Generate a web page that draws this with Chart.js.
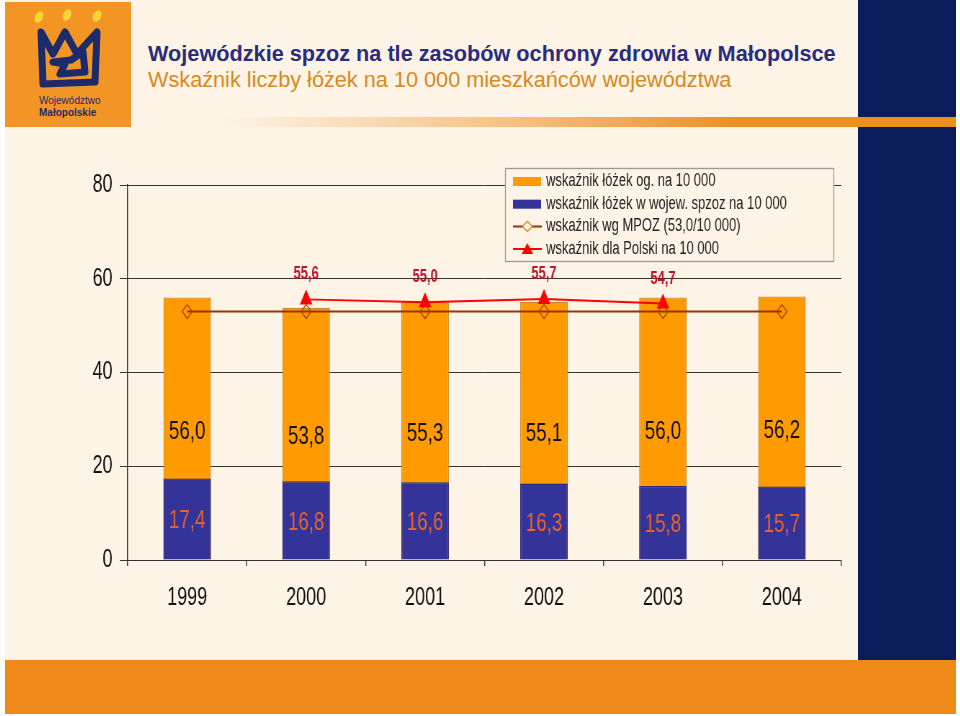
<!DOCTYPE html>
<html>
<head>
<meta charset="utf-8">
<script src="https://cdn.jsdelivr.net/npm/chart.js@4/dist/chart.umd.min.js"></script>
<style>
  html, body { margin: 0; padding: 0; }
  body { width: 960px; height: 716px; background: #fff; position: relative; overflow: hidden; font-family: "Liberation Sans", Arial, sans-serif; }
  #page { position: absolute; left: 5px; top: 0; width: 951px; height: 714px; background: #fdf4e7; }
  #navy { position: absolute; left: 858px; top: 0; width: 98px; height: 660px; background: #0b1c5a; }
  #strip { position: absolute; left: 220px; top: 117px; width: 736px; height: 10px;
           background: linear-gradient(to right, rgba(240,140,30,0) 0%, rgba(240,140,30,0.5) 40%, #ef8f22 70%, #ef8f22 100%); }
  #bottom { position: absolute; left: 5px; top: 660px; width: 951px; height: 54px; background: #ef8a1a; }
  #logo { position: absolute; left: 5px; top: 2px; width: 126px; height: 125px; background: #f29524; }
  #logo .t1 { position: absolute; left: 34px; top: 93px; font-size: 10px; color: #1d2a6b; }
  #logo .t2 { position: absolute; left: 34px; top: 105px; font-size: 10px; font-weight: bold; color: #1d2a6b; }
  #title { position: absolute; left: 148px; top: 41px; font-size: 21.7px; font-weight: bold; color: #2a2c7c; white-space: nowrap; }
  #subtitle { position: absolute; left: 148px; top: 67px; font-size: 21.7px; color: #d9891c; white-space: nowrap; }
  #chart { position: absolute; left: 60px; top: 160px; width: 790px; height: 450px; }
</style>
</head>
<body>
<div id="page"></div>
<div id="navy"></div>
<div id="strip"></div>
<div id="bottom"></div>
<div id="logo">
  <svg width="126" height="95" viewBox="0 0 126 95">
    <ellipse cx="34" cy="15" rx="4" ry="6" fill="#f7d634" transform="rotate(25 34 15)"/>
    <ellipse cx="62" cy="13" rx="4" ry="6" fill="#f7d634" transform="rotate(25 62 13)"/>
    <ellipse cx="92" cy="14" rx="4" ry="6" fill="#f7d634" transform="rotate(25 92 14)"/>
    <path d="M36 30 L48 52 L60 30 L72 52 L92 30 L90 80 L38 82 Z M48 60 L60 62 L55 72 L80 70 L78 50 L66 58 Z"
          fill="none" stroke="#1d2a6b" stroke-width="7" stroke-linejoin="round"/>
  </svg>
  <div class="t1">Województwo</div>
  <div class="t2">Małopolskie</div>
</div>
<div id="title">Wojewódzkie spzoz na tle zasobów ochrony zdrowia w Małopolsce</div>
<div id="subtitle">Wskaźnik liczby łóżek na 10 000 mieszkańców województwa</div>
<!-- the original slide is squeezed sideways, so the canvas is drawn wider and shown at 790px -->
<canvas id="chart" width="1097" height="450" style="width:790px;height:450px"></canvas>
<script>
const years = ["1999", "2000", "2001", "2002", "2003", "2004"];
const bedsTotal = [56.0, 53.8, 55.3, 55.1, 56.0, 56.2];
const bedsSpzoz = [17.4, 16.8, 16.6, 16.3, 15.8, 15.7];
const mpozNorm = [53.0, 53.0, 53.0, 53.0, 53.0, 53.0];
const polska = [null, 55.6, 55.0, 55.7, 54.7, null];
const yTicks = [0, 20, 40, 60, 80];

const font = '"Liberation Sans", Arial, sans-serif';

const fmt = v => v.toFixed(1).replace(".", ",");

// value labels inside bars and above the Poland line
const labelPlugin = {
  id: "labels",
  afterDatasetsDraw(chart) {
    const ctx = chart.ctx;
    const x = chart.scales.x, y = chart.scales.y;
    ctx.save();
    ctx.textAlign = "center";
    ctx.textBaseline = "middle";
    years.forEach((yr, i) => {
      const px = x.getPixelForValue(i);
      ctx.font = "26px " + font;
      ctx.fillStyle = "#111";
      ctx.fillText(fmt(bedsTotal[i]), px, y.getPixelForValue(bedsTotal[i] / 2) + 3);
      ctx.fillStyle = "#e8632a";
      ctx.fillText(fmt(bedsSpzoz[i]), px, y.getPixelForValue(bedsSpzoz[i] / 2) + 2);
      if (polska[i] != null) {
        ctx.font = "bold 18px " + font;
        ctx.fillStyle = "#c0142a";
        ctx.fillText(fmt(polska[i]), px, y.getPixelForValue(polska[i]) - 25);
      }
    });
    ctx.restore();
  }
};

// legend box sitting over the top of the plot
const legendPlugin = {
  id: "boxLegend",
  afterDraw(chart) {
    const ctx = chart.ctx;
    const bx = 618, by = 8, bw = 456, bh = 93;
    ctx.save();
    ctx.fillStyle = "#fdf4e7";
    ctx.fillRect(bx, by, bw, bh);
    ctx.strokeStyle = "#9a9a9a";
    ctx.lineWidth = 1.3;
    ctx.strokeRect(bx + 0.5, by + 0.5, bw, bh);
    ctx.font = "18px " + font;
    ctx.textBaseline = "middle";
    chart.data.datasets.forEach((ds, k) => {
      const cy = by + 13 + k * 22.7;
      const sx = bx + 11;
      if (ds.type === "bar") {
        ctx.fillStyle = ds.backgroundColor;
        ctx.fillRect(sx, cy - 4, 39, 9);
      } else {
        ctx.strokeStyle = ds.borderColor;
        ctx.lineWidth = 2;
        ctx.beginPath();
        ctx.moveTo(sx, cy);
        ctx.lineTo(sx + 40, cy);
        ctx.stroke();
        const mx = sx + 20;
        ctx.beginPath();
        if (ds.pointStyle === "rectRot") {
          ctx.moveTo(mx, cy - 5); ctx.lineTo(mx + 7, cy); ctx.lineTo(mx, cy + 5); ctx.lineTo(mx - 7, cy); ctx.closePath();
          ctx.fillStyle = "#fdf4e7";
          ctx.fill();
          ctx.strokeStyle = "#e08a1a";
          ctx.lineWidth = 1.3;
          ctx.stroke();
        } else {
          ctx.moveTo(mx, cy - 6); ctx.lineTo(mx + 8, cy + 5); ctx.lineTo(mx - 8, cy + 5); ctx.closePath();
          ctx.fillStyle = ds.pointBackgroundColor;
          ctx.fill();
        }
      }
      ctx.fillStyle = "#222";
      ctx.fillText(ds.label, bx + 57, cy);
    });
    ctx.restore();
  }
};

new Chart(document.getElementById("chart"), {
  data: {
    labels: years,
    datasets: [
      {
        type: "bar",
        label: "wskaźnik łóżek og. na 10 000",
        data: bedsTotal,
        backgroundColor: "#ff9a00",
        borderColor: "#c98a2a",
        borderWidth: 1.3,
        grouped: false,
        barPercentage: 0.4,
        categoryPercentage: 1,
        order: 3
      },
      {
        type: "bar",
        label: "wskaźnik łóżek w wojew. spzoz na 10 000",
        data: bedsSpzoz,
        backgroundColor: "#333399",
        borderColor: "#2a2a80",
        borderWidth: 1.3,
        grouped: false,
        barPercentage: 0.4,
        categoryPercentage: 1,
        order: 2
      },
      {
        type: "line",
        label: "wskaźnik wg MPOZ (53,0/10 000)",
        data: mpozNorm,
        borderColor: "#993300",
        borderWidth: 2,
        pointStyle: "rectRot",
        pointRadius: 7,
        pointBackgroundColor: "rgba(0,0,0,0)",
        pointBorderColor: "#a8420e",
        pointBorderWidth: 1.3,
        tension: 0,
        order: 1
      },
      {
        type: "line",
        label: "wskaźnik dla Polski na 10 000",
        data: polska,
        borderColor: "#ff0000",
        borderWidth: 2,
        pointStyle: "triangle",
        pointRadius: 8,
        pointBackgroundColor: "#ff0000",
        pointBorderColor: "#ff0000",
        tension: 0,
        spanGaps: false,
        order: 0
      }
    ]
  },
  options: {
    responsive: false,
    animation: false,
    layout: { padding: { top: 25, right: 12, left: 0, bottom: 0 } },
    plugins: {
      legend: { display: false },
      tooltip: { enabled: false }
    },
    scales: {
      x: {
        offset: true,
        grid: { display: true, drawOnChartArea: false, color: "#333", tickLength: 6, offset: true, lineWidth: 1.4 },
        border: { display: true, color: "#333", width: 1 },
        ticks: { color: "#111", padding: 17, font: { family: font, size: 25 } },
        afterFit(scale) { scale.height = 50; }
      },
      y: {
        min: 0,
        max: 80,
        afterBuildTicks(scale) { scale.ticks = yTicks.map(v => ({ value: v })); },
        grid: { color: "#333", tickLength: 11, lineWidth: 1 },
        border: { display: true, color: "#333", width: 1.4 },
        ticks: { color: "#111", padding: 10, font: { family: font, size: 25 } },
        afterFit(scale) { scale.width = 94; }
      }
    }
  },
  plugins: [labelPlugin, legendPlugin]
});
</script>
</body>
</html>
